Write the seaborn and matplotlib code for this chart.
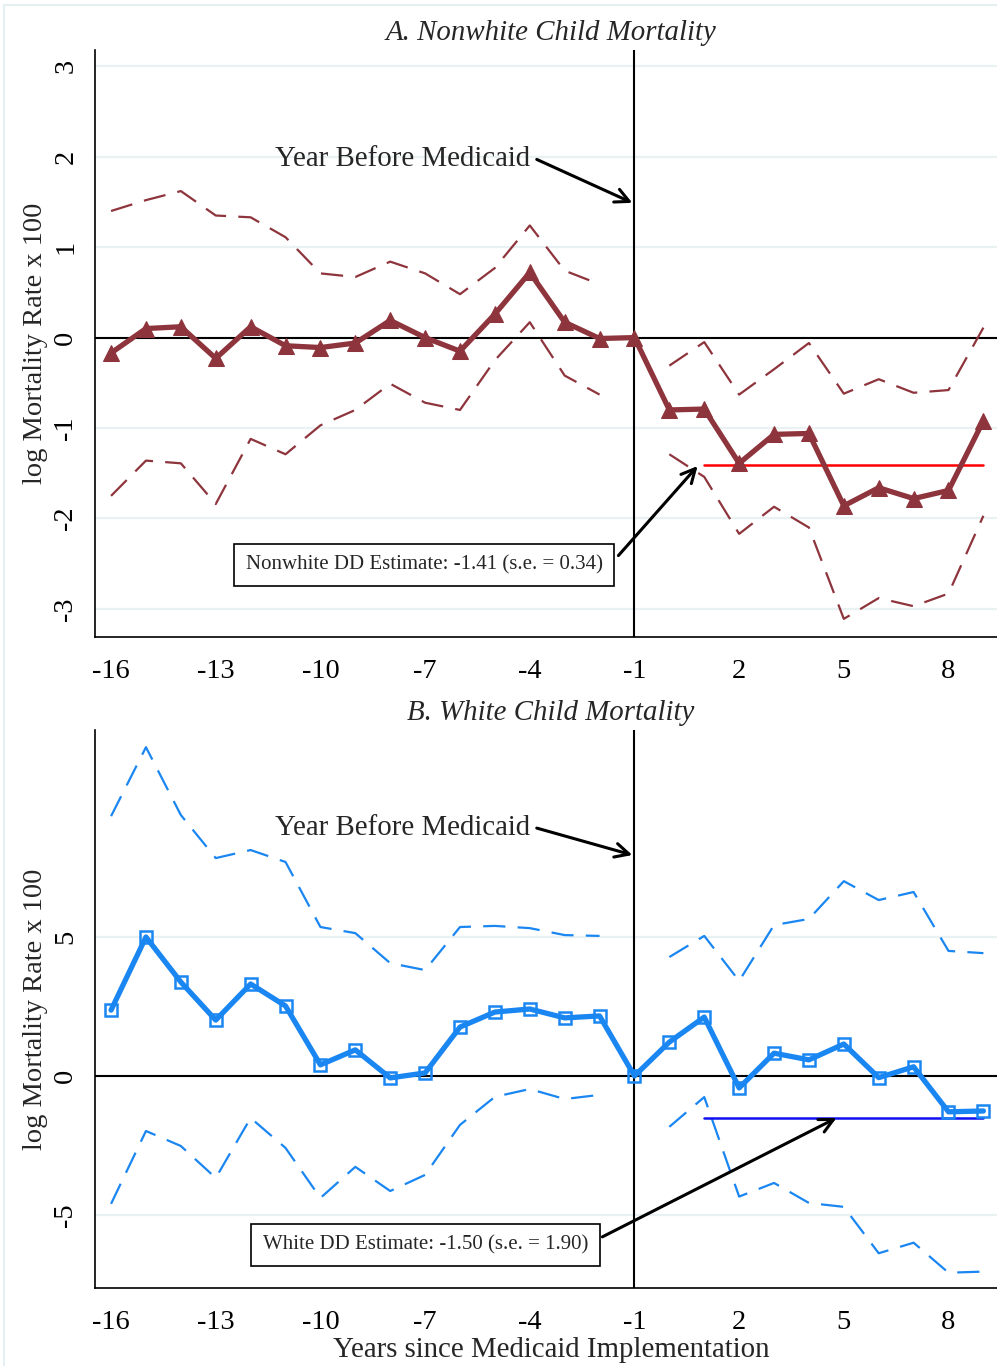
import numpy as np
import matplotlib
matplotlib.use("Agg")
import matplotlib.pyplot as plt
import seaborn as sns
from matplotlib.patches import Rectangle

# event-time years
years = np.arange(-16, 10)

# Panel A: nonwhite child mortality (point estimates and 95% CI bounds)
nw_est = [-0.17, 0.10, 0.12, -0.23, 0.12, -0.09, -0.11, -0.06, 0.19, 0.00, -0.15, 0.26, 0.72,
          0.17, -0.01, 0.00, -0.80, -0.79, -1.39, -1.07, -1.06, -1.86, -1.66, -1.78, -1.69, -0.92]
nw_hi = [1.40, 1.52, 1.62, 1.35, 1.33, 1.11, 0.71, 0.67, 0.84, 0.71, 0.48, 0.77, 1.24,
         0.74, 0.59, np.nan, -0.31, -0.05, -0.63, -0.35, -0.06, -0.62, -0.46, -0.61, -0.58, 0.11]
nw_lo = [-1.75, -1.36, -1.39, -1.84, -1.12, -1.29, -0.97, -0.80, -0.51, -0.72, -0.80, -0.25, 0.17,
         -0.42, -0.63, np.nan, -1.29, -1.54, -2.17, -1.87, -2.10, -3.11, -2.88, -2.97, -2.83, -1.97]
nw_dd = -1.41
nw_box = "Nonwhite DD Estimate: -1.41 (s.e. = 0.34)"

# Panel B: white child mortality
wh_est = [2.37, 5.00, 3.38, 2.01, 3.31, 2.52, 0.40, 0.94, -0.07, 0.11, 1.76, 2.30, 2.41,
          2.09, 2.16, 0.00, 1.22, 2.12, -0.43, 0.82, 0.58, 1.15, -0.06, 0.33, -1.29, -1.26]
wh_hi = [9.35, 11.83, 9.39, 7.84, 8.13, 7.70, 5.36, 5.14, 4.06, 3.81, 5.36, 5.40, 5.32,
         5.07, 5.04, np.nan, 4.28, 5.04, 3.42, 5.43, 5.65, 7.01, 6.33, 6.62, 4.50, 4.42]
wh_lo = [-4.60, -1.98, -2.52, -3.67, -1.51, -2.59, -4.39, -3.27, -4.14, -3.56, -1.76, -0.75, -0.47,
         -0.83, -0.68, np.nan, -1.83, -0.76, -4.34, -3.85, -4.57, -4.71, -6.38, -6.00, -7.08, -7.04]
wh_dd = -1.50
wh_box = "White DD Estimate: -1.50 (s.e. = 1.90)"

xticks = [-16, -13, -10, -7, -4, -1, 2, 5, 8]

sns.set_style("white")
plt.rcParams["font.family"] = ["Liberation Serif", "DejaVu Serif"]

fig = plt.figure(figsize=(9.97, 13.66), dpi=100)
# light outline of the graph region (Stata style)
fig.patches.append(Rectangle((0.004, -0.05), 1.2, 1.0465, transform=fig.transFigure,
                             fill=False, edgecolor="#E6EFF1", lw=1.5))

maroon = "#8E343C"
blue = "#1A86F2"


def draw_panel(ax, est, hi, lo, dd, color, marker, dd_color, title, yticks, ylim,
               box_text, box_xy, arr_tail, arr_tip, ybm_xy, ybm_tip):
    est = np.array(est)
    hi = np.array(hi)
    lo = np.array(lo)
    pre = years < -1
    post = years > -1
    ax.yaxis.grid(True, color="#E9F1F3", lw=1.6)
    ax.set_axisbelow(True)
    ax.axhline(0, color="black", lw=1.5, zorder=2)
    ax.axvline(-1, color="black", lw=1.5, zorder=2)
    for bound in (hi, lo):
        for m in (pre, post):
            sns.lineplot(x=years[m], y=bound[m], ax=ax, color=color, lw=1.6,
                         linestyle=(0, (10, 5.5)), zorder=3)
    # DD estimate segment
    sns.lineplot(x=[1, 9], y=[dd, dd], ax=ax, color=dd_color, lw=1.8, zorder=3)
    if marker == "^":
        sns.lineplot(x=years, y=est, ax=ax, color=color, lw=3.8, marker="^",
                     markersize=11, markeredgecolor=color, markerfacecolor=color, zorder=4)
    else:
        sns.lineplot(x=years, y=est, ax=ax, color=color, lw=3.8, marker="s",
                     markersize=9, markeredgecolor=color, markerfacecolor="none",
                     markeredgewidth=1.8, zorder=4)
    ax.set_xlim(-16.46, 9.39)
    ax.set_ylim(*ylim)
    ax.set_xticks(xticks)
    ax.set_xticklabels([str(t) for t in xticks])
    ax.set_yticks(yticks)
    ax.set_yticklabels([str(t) for t in yticks], rotation=90, va="center")
    ax.tick_params(axis="both", direction="out", length=7, width=1.1, labelsize=20.5,
                   color="black", labelcolor="black")
    ax.tick_params(axis="x", pad=9)
    ax.tick_params(axis="y", pad=5)
    for s in ("top", "right"):
        ax.spines[s].set_visible(False)
    for s in ("left", "bottom"):
        ax.spines[s].set_color("black")
        ax.spines[s].set_linewidth(1.2)
    ax.set_title(title, style="italic", fontsize=20.8, pad=7, x=0.5055)
    ax.set_ylabel("log Mortality Rate x 100", fontsize=20.5, labelpad=4)
    ax.set_xlabel("")
    ax.text(box_xy[0], box_xy[1], box_text, ha="center", va="center", fontsize=15, zorder=6,
            bbox=dict(boxstyle="square,pad=0.55", fc="white", ec="black", lw=1.2))
    ax.annotate("", xy=arr_tip, xytext=arr_tail, zorder=6,
                arrowprops=dict(arrowstyle="->", lw=2.2, color="black", mutation_scale=25,
                                shrinkA=0, shrinkB=0))
    ax.text(ybm_xy[0], ybm_xy[1], "Year Before Medicaid", ha="right", va="center",
            fontsize=20.8, zorder=6)
    ax.annotate("", xy=ybm_tip, xytext=(ybm_xy[0] + 0.2, ybm_xy[1]), zorder=6,
                arrowprops=dict(arrowstyle="->", lw=2.2, color="black", mutation_scale=25,
                                shrinkA=0, shrinkB=0))


axA = fig.add_axes([0.0953, 0.5337, 0.9047, 0.4297])
draw_panel(axA, nw_est, nw_hi, nw_lo, nw_dd, maroon, "^", "#FF0000",
           "A. Nonwhite Child Mortality", [-3, -2, -1, 0, 1, 2, 3], (-3.31, 3.18),
           nw_box, (-7.02, -2.51), (-1.46, -2.41), (0.81, -1.42),
           (-4.0, 1.97), (-1.06, 1.49))

axB = fig.add_axes([0.0953, 0.0571, 0.9047, 0.4085])
draw_panel(axB, wh_est, wh_hi, wh_lo, wh_dd, blue, "s", "#1010F0",
           "B. White Child Mortality", [-5, 0, 5], (-7.63, 12.45),
           wh_box, (-6.99, -6.08), (-1.92, -5.79), (4.79, -1.51),
           (-4.0, 8.92), (-1.06, 7.95))
axB.set_xlabel("Years since Medicaid Implementation", fontsize=20.8, labelpad=1, x=0.506)

fig.savefig("out.png", dpi=100)
